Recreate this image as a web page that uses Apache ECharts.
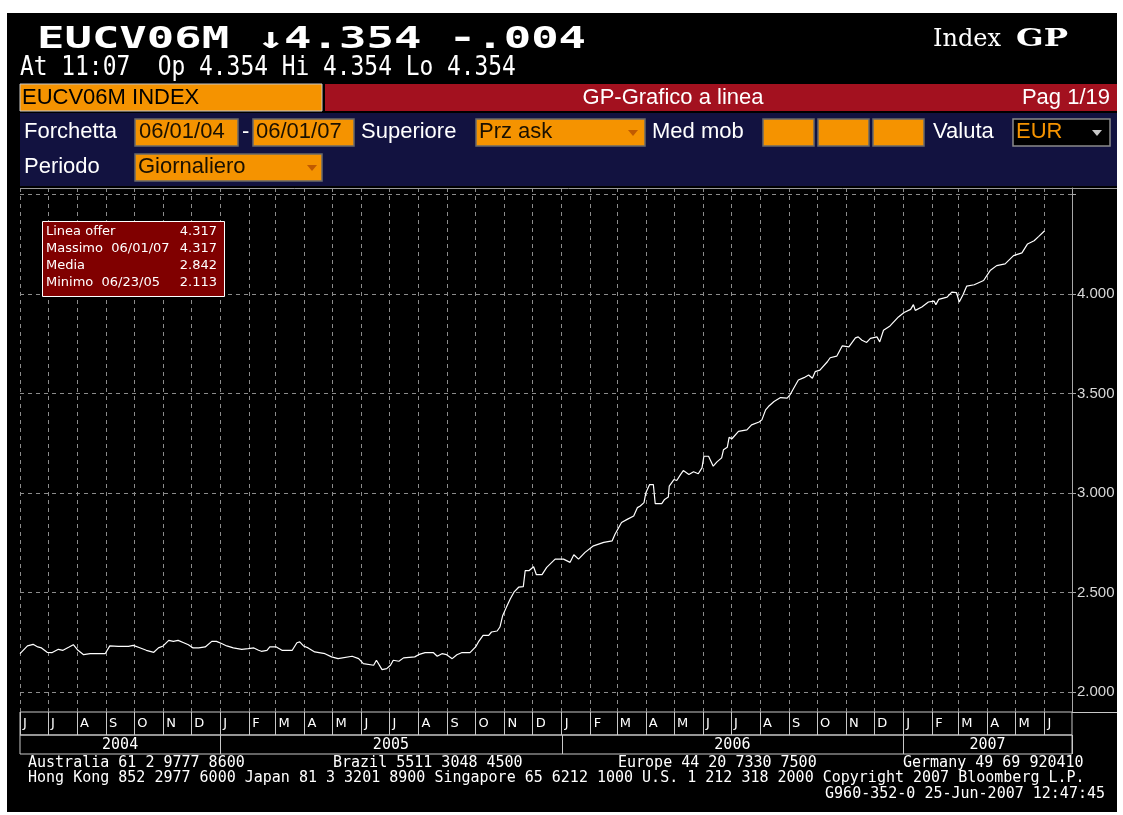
<!DOCTYPE html>
<html>
<head>
<meta charset="utf-8">
<script src="https://cdn.jsdelivr.net/npm/echarts@6.0.0/dist/echarts.min.js"></script>
<style>
html,body{margin:0;padding:0;background:#fff;}
#frame{position:absolute;left:7px;top:13px;width:1110px;height:799px;background:#000;}
#chart{position:absolute;left:0;top:0;width:1123px;height:815px;}
</style>
</head>
<body>
<div id="frame"></div>
<div id="chart"></div>
<script>
// ---- data ----
const dates = [
'2004-06-01','2004-06-09','2004-06-15','2004-06-20','2004-06-24','2004-06-30','2004-07-05','2004-07-12','2004-07-17','2004-07-23','2004-07-28','2004-08-02','2004-08-08','2004-08-15','2004-08-31','2004-09-05','2004-09-14','2004-09-25','2004-09-30','2004-10-07','2004-10-14','2004-10-22','2004-10-27','2004-11-01','2004-11-07','2004-11-12','2004-11-17','2004-11-23','2004-11-28','2004-12-03','2004-12-09','2004-12-16','2004-12-23','2004-12-28',
'2005-01-03','2005-01-08','2005-01-15','2005-01-24','2005-01-31','2005-02-06','2005-02-11','2005-02-14','2005-02-20','2005-02-23','2005-03-02','2005-03-08','2005-03-19','2005-03-24','2005-03-27','2005-03-31','2005-04-05','2005-04-12','2005-04-23','2005-04-30','2005-05-07','2005-05-22','2005-05-29','2005-06-03','2005-06-14','2005-06-17','2005-06-23','2005-06-28','2005-07-02','2005-07-05','2005-07-11','2005-07-16','2005-07-28','2005-08-01','2005-08-08','2005-08-17','2005-08-21','2005-08-26','2005-08-31','2005-09-06','2005-09-11','2005-09-16','2005-09-25','2005-10-01','2005-10-04','2005-10-09','2005-10-15','2005-10-18','2005-10-24','2005-10-27','2005-10-30','2005-11-03','2005-11-07','2005-11-11','2005-11-16','2005-11-21','2005-11-23','2005-11-27','2005-12-02','2005-12-05','2005-12-11','2005-12-16','2005-12-25',
'2006-01-03','2006-01-10','2006-01-14','2006-01-19','2006-01-26','2006-02-04','2006-02-15','2006-02-24','2006-02-27','2006-03-06','2006-03-12','2006-03-19','2006-03-23','2006-03-26','2006-03-30','2006-04-01','2006-04-05','2006-04-09','2006-04-11','2006-04-18','2006-04-21','2006-04-25','2006-04-26','2006-05-01','2006-05-04','2006-05-08','2006-05-11','2006-05-17','2006-05-22','2006-05-27','2006-05-31','2006-06-02','2006-06-07','2006-06-12','2006-06-16','2006-06-21','2006-06-23','2006-06-27','2006-06-29','2006-07-02','2006-07-09','2006-07-18','2006-07-23','2006-07-31','2006-08-03','2006-08-07','2006-08-10','2006-08-16','2006-08-23','2006-08-30','2006-09-02','2006-09-06','2006-09-11','2006-09-17','2006-09-22','2006-09-26','2006-09-29','2006-10-04','2006-10-12','2006-10-15','2006-10-22','2006-10-28','2006-11-04','2006-11-11','2006-11-14','2006-11-18','2006-11-23','2006-11-27','2006-12-04','2006-12-07','2006-12-11','2006-12-18','2006-12-27',
'2007-01-02','2007-01-09','2007-01-12','2007-01-14','2007-01-21','2007-01-28','2007-02-03','2007-02-05','2007-02-08','2007-02-17','2007-02-22','2007-02-27','2007-03-02','2007-03-06','2007-03-10','2007-03-18','2007-03-28','2007-04-04','2007-04-11','2007-04-20','2007-04-29','2007-05-08','2007-05-14','2007-05-21','2007-05-26','2007-06-01'
];
const offerValues = [
2.193,2.232,2.240,2.227,2.222,2.200,2.198,2.215,2.210,2.225,2.238,2.210,2.188,2.193,2.193,2.232,2.230,2.230,2.235,2.223,2.210,2.200,2.222,2.232,2.260,2.255,2.260,2.248,2.238,2.222,2.222,2.227,2.255,2.255,
2.243,2.232,2.222,2.215,2.218,2.222,2.210,2.205,2.210,2.227,2.227,2.210,2.210,2.248,2.252,2.232,2.222,2.202,2.193,2.177,2.168,2.180,2.168,2.143,2.135,2.160,2.113,2.118,2.135,2.160,2.155,2.172,2.177,2.188,2.198,2.198,2.180,2.193,2.188,2.168,2.188,2.198,2.198,2.227,2.252,2.285,2.285,2.302,2.307,2.327,2.385,2.427,2.468,2.502,2.527,2.530,2.610,2.610,2.630,2.590,2.590,2.627,2.668,
2.668,2.652,2.690,2.668,2.702,2.735,2.752,2.760,2.793,2.852,2.868,2.885,2.927,2.935,2.952,3.002,3.043,3.043,2.947,2.947,2.968,2.980,3.035,3.068,3.063,3.093,3.113,3.093,3.107,3.097,3.127,3.185,3.185,3.135,3.157,3.177,3.218,3.230,3.280,3.273,3.310,3.318,3.343,3.357,3.368,3.418,3.435,3.460,3.480,3.477,3.493,3.527,3.568,3.580,3.593,3.577,3.610,3.618,3.660,3.680,3.688,3.740,3.735,3.780,3.785,3.768,3.757,3.777,3.785,3.760,3.818,3.840,3.885,
3.907,3.923,3.947,3.918,3.935,3.960,3.965,3.947,3.973,3.985,4.010,4.007,3.960,3.997,4.040,4.047,4.068,4.118,4.143,4.152,4.193,4.207,4.252,4.268,4.290,4.317
];
const monthLetters = ['J','F','M','A','M','J','J','A','S','O','N','D'];
const years = ['2004','2005','2006','2007'];
const legendRows = [
  ['Linea offer', '4.317'],
  ['Massimo  06/01/07', '4.317'],
  ['Media', '2.842'],
  ['Minimo  06/23/05', '2.113']
];
const yLabelValues = [2.0, 2.5, 3.0, 3.5, 4.0];

// ---- layout ----
const DAY = 86400000;
const axisMin = new Date(2004, 5, 1).getTime();
const axisMax = new Date(2007, 5, 30, 12).getTime();
const GRID_L = 20, GRID_W = 1052;
const ORANGE = '#f59300';
const SANS = '"Liberation Sans", Arial, sans-serif';
const MONO = '"DejaVu Sans Mono", monospace';

function T(x, y, text, opt) {
  opt = opt || {};
  return {
    type: 'text', x: x, y: y, z: 100, silent: true,
    scaleX: opt.scaleX || 1,
    style: {
      text: text, fill: opt.fill || '#fff',
      font: opt.font || ('22px ' + SANS),
      align: opt.align || 'left', verticalAlign: 'middle'
    }
  };
}
function R(x, y, w, h, fill, stroke, lw) {
  return {
    type: 'rect', z: 90, silent: true,
    shape: { x: x, y: y, width: w, height: h },
    style: { fill: fill, stroke: stroke || null, lineWidth: lw || 1 }
  };
}
function L(x1, y1, x2, y2, color, lw) {
  return {
    type: 'line', z: 95, silent: true,
    shape: { x1: x1, y1: y1, x2: x2, y2: y2 },
    style: { stroke: color, lineWidth: lw || 1 }
  };
}
function Arrow(cx, cy, color) {
  return {
    type: 'polygon', z: 100, silent: true,
    shape: { points: [[cx - 5, cy - 3], [cx + 5, cy - 3], [cx, cy + 3]] },
    style: { fill: color }
  };
}

const boxStroke = '#6a6a6a';
const graphics = [
  // header
  T(37, 40, 'EUCV06M \u21934.354 -.004', { font: 'bold 30px ' + MONO, scaleX: 1.52 }),
  T(933, 40, 'Index', { font: '24px "DejaVu Serif", serif' }),
  T(1016, 40, 'GP', { font: 'bold 24px "DejaVu Serif", serif', scaleX: 1.35 }),
  T(20, 68, 'At 11:07  Op 4.354 Hi 4.354 Lo 4.354', { font: '26px ' + MONO, scaleX: 0.88 }),
  // title bars
  R(20, 84, 302, 27, ORANGE, '#c8c8c8', 1),
  T(22, 98, 'EUCV06M INDEX', { fill: '#000' }),
  R(325, 84, 792, 27, '#a3111f'),
  T(673, 98, 'GP-Grafico a linea', { align: 'center' }),
  T(1110, 98, 'Pag 1/19', { align: 'right' }),
  // navy panel
  R(20, 113, 1097, 73, '#121240'),
  T(24, 132, 'Forchetta'),
  R(135, 119, 103, 27, ORANGE, boxStroke, 1.5), T(139, 132, '06/01/04', { fill: '#1a1000' }),
  T(242, 132, '-'),
  R(253, 119, 101, 27, ORANGE, boxStroke, 1.5), T(256, 132, '06/01/07', { fill: '#1a1000' }),
  T(361, 132, 'Superiore'),
  R(476, 119, 169, 27, ORANGE, boxStroke, 1.5), T(479, 132, 'Prz ask', { fill: '#1a1000' }),
  Arrow(633, 133, '#c05a00'),
  T(652, 132, 'Med mob'),
  R(763, 119, 51, 27, ORANGE, boxStroke, 1.5),
  R(818, 119, 51, 27, ORANGE, boxStroke, 1.5),
  R(873, 119, 51, 27, ORANGE, boxStroke, 1.5),
  T(933, 132, 'Valuta'),
  R(1013, 119, 97, 27, '#000', '#8a8a8a', 1.5), T(1016, 132, 'EUR', { fill: ORANGE }),
  Arrow(1097, 133, '#c8c8c8'),
  T(24, 167, 'Periodo'),
  R(135, 154, 187, 27, ORANGE, boxStroke, 1.5), T(138, 167, 'Giornaliero', { fill: '#1a1000' }),
  Arrow(312, 168, '#c05a00'),
  L(20, 188.5, 1117, 188.5, '#9a9a9a', 1),
  // line right of the axis at the bottom of the plot
  L(1072, 712.5, 1117, 712.5, '#c8c8c8', 1),
  // legend box
  R(42.5, 221.5, 182, 75, '#800000', '#ffffff', 1),
  // footer
  T(28, 763, 'Australia 61 2 9777 8600', { font: '15px ' + MONO }),
  T(333, 763, 'Brazil 5511 3048 4500', { font: '15px ' + MONO }),
  T(618, 763, 'Europe 44 20 7330 7500', { font: '15px ' + MONO }),
  T(903, 763, 'Germany 49 69 920410', { font: '15px ' + MONO }),
  T(28, 778, 'Hong Kong 852 2977 6000 Japan 81 3 3201 8900 Singapore 65 6212 1000 U.S. 1 212 318 2000 Copyright 2007 Bloomberg L.P.', { font: '15px ' + MONO }),
  T(1105, 794, 'G960-352-0 25-Jun-2007 12:47:45', { font: '15px ' + MONO, align: 'right' })
];
legendRows.forEach(function (row, i) {
  const y = 232 + i * 17;
  graphics.push(T(46, y, row[0], { font: '13px "DejaVu Sans", sans-serif' }));
  graphics.push(T(217, y, row[1], { font: '13px "DejaVu Sans", sans-serif', align: 'right' }));
});

const timeBase = {
  type: 'time', min: axisMin, max: axisMax,
  splitNumber: 37, minInterval: 28 * DAY, maxInterval: 31 * DAY
};

const yearData = years.map(function (y) {
  const s = Math.max(new Date(+y, 0, 1).getTime(), axisMin);
  const e = Math.min(new Date(+y + 1, 0, 1).getTime(), axisMax);
  return [s, e, 0.5];
});

const option = {
  backgroundColor: 'transparent',
  animation: false,
  graphic: { elements: graphics },
  grid: [
    { left: GRID_L, top: 188, width: GRID_W, height: 524 },
    { left: GRID_L, top: 712, width: GRID_W, height: 23, show: true, borderColor: '#c8c8c8', borderWidth: 1, backgroundColor: 'transparent' },
    { left: GRID_L, top: 735, width: GRID_W, height: 19, show: true, borderColor: '#c8c8c8', borderWidth: 1, backgroundColor: 'transparent' }
  ],
  xAxis: [
    Object.assign({}, timeBase, {
      gridIndex: 0,
      axisLine: { show: false }, axisTick: { show: false }, axisLabel: { show: false },
      splitLine: { show: true, showMinLine: false, showMaxLine: false, lineStyle: { color: '#8c8c8c', type: [4, 4], width: 1 } }
    }),
    Object.assign({}, timeBase, {
      gridIndex: 1, position: 'top',
      axisLine: { show: false }, axisTick: { show: false },
      splitLine: { show: true, showMinLine: false, showMaxLine: false, lineStyle: { color: '#c8c8c8', type: 'solid', width: 1 } },
      axisLabel: {
        show: true, inside: true, margin: 12, align: 'left', verticalAlign: 'middle',
        padding: [0, 0, 0, 3], color: '#ffffff', fontSize: 13, fontFamily: '"DejaVu Sans", sans-serif',
        showMinLabel: true, showMaxLabel: false, hideOverlap: false,
        formatter: function (val) { return monthLetters[new Date(val).getMonth()]; }
      }
    }),
    { type: 'time', gridIndex: 2, min: axisMin, max: axisMax, show: false }
  ],
  yAxis: [
    {
      type: 'value', gridIndex: 0, position: 'right', min: 1.9, max: 4.533, splitNumber: 5,
      axisLine: { show: true, lineStyle: { color: '#a8a8a8', width: 1 } },
      axisTick: { show: true, length: 4, lineStyle: { color: '#a8a8a8' } },
      axisLabel: {
        show: true, margin: 5, color: '#d8d8d8', fontSize: 15, fontFamily: SANS,
        showMinLabel: false, showMaxLabel: false,
        formatter: function (v) {
          for (let i = 0; i < yLabelValues.length; i++) {
            if (Math.abs(v - yLabelValues[i]) < 1e-6) return yLabelValues[i].toFixed(3);
          }
          return '';
        }
      },
      splitLine: { show: true, showMinLine: false, showMaxLine: false, lineStyle: { color: '#8c8c8c', type: [4, 4], width: 1 } }
    },
    { type: 'value', gridIndex: 1, min: 0, max: 1, show: false },
    { type: 'value', gridIndex: 2, min: 0, max: 1, show: false }
  ],
  series: [
    {
      name: 'Linea offer', type: 'line', xAxisIndex: 0, yAxisIndex: 0,
      data: dates.map(function (d, i) { return [d, offerValues[i]]; }),
      showSymbol: false, symbol: 'none', smooth: false, z: 5,
      lineStyle: { color: '#ffffff', width: 1.2 }
    },
    {
      name: 'years', type: 'custom', xAxisIndex: 2, yAxisIndex: 2,
      encode: { x: [0, 1], y: 2 }, data: yearData, silent: true, clip: false,
      renderItem: function (params, api) {
        const s = api.coord([api.value(0), 0.5]);
        const e = api.coord([api.value(1), 0.5]);
        const cs = params.coordSys;
        return {
          type: 'group',
          children: [
            { type: 'line', shape: { x1: Math.round(e[0]) + 0.5, y1: cs.y, x2: Math.round(e[0]) + 0.5, y2: cs.y + cs.height }, style: { stroke: '#c8c8c8', lineWidth: 1 } },
            { type: 'text', x: (s[0] + e[0]) / 2, y: cs.y + cs.height / 2 + 1, style: { text: years[params.dataIndex], fill: '#ffffff', font: '15px ' + MONO, align: 'center', verticalAlign: 'middle' } }
          ]
        };
      }
    }
  ]
};

const chart = echarts.init(document.getElementById('chart'), null, { renderer: 'canvas' });
chart.setOption(option);
</script>
</body>
</html>
